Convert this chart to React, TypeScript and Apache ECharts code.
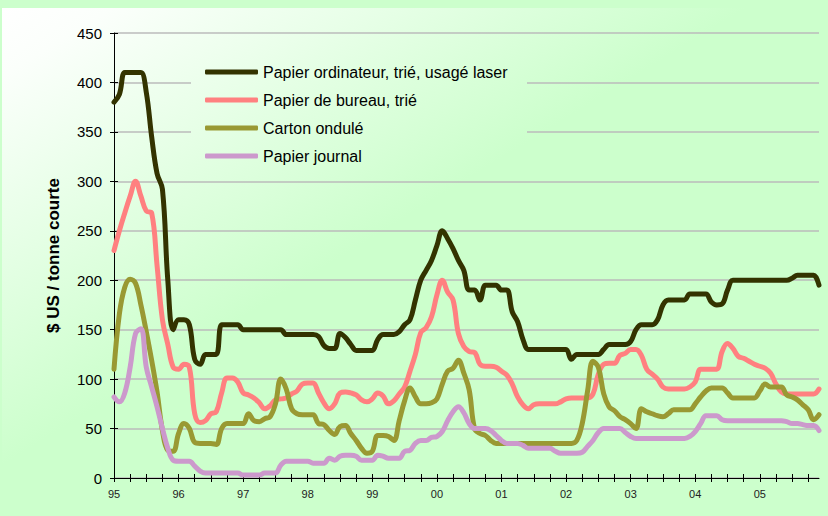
import React, { useEffect, useRef } from "react";
import * as echarts from "echarts";

// ---- Data ----
const YEARS = ["95", "96", "97", "98", "99", "00", "01", "02", "03", "04", "05"];
const MONTHS = ["01", "02", "03", "04", "05", "06", "07", "08", "09", "10", "11", "12"];
const CATEGORIES: string[] = YEARS.flatMap((y) => MONTHS.map((m) => `${y}-${m}`));

const SERIES_NAMES = [
  "Papier ordinateur, trié, usagé laser",
  "Papier de bureau, trié",
  "Carton ondulé",
  "Papier journal",
];

const ORDINATEUR = [
  380, 388, 410, 410, 410, 410, 390, 345, 308, 292, 200, 150,
  160, 160, 155, 120, 115, 125, 125, 125, 155, 155, 155, 155,
  150, 150, 150, 150, 150, 150, 150, 150, 145, 145, 145, 145,
  145, 145, 143, 134, 131, 131, 146, 142, 135, 129, 129, 129,
  129, 140, 145, 145, 145, 148, 155, 160, 180, 200, 210, 220,
  235, 250, 242, 232, 220, 210, 190, 190, 180, 195, 195, 195,
  190, 190, 168, 158, 140, 130, 130, 130, 130, 130, 130, 130,
  130, 120, 125, 125, 125, 125, 125, 130, 135, 135, 135, 135,
  138, 150, 155, 155, 155, 160, 175, 180, 180, 180, 180, 186,
  186, 186, 186, 178, 175, 176, 190, 200, 200, 200, 200, 200,
  200, 200, 200, 200, 200, 200, 202, 205, 205, 205, 205, 195,
];

const BUREAU = [
  230, 250, 268, 285, 300, 285, 270, 268, 215, 160, 135, 112,
  110, 115, 112, 65, 56, 58, 65, 67, 86, 101, 101, 97,
  86, 84, 81, 76, 70, 73, 79, 80, 81, 85, 88, 95,
  96, 96, 86, 76, 70, 75, 86, 87, 86, 84, 79, 77,
  80, 86, 83, 75, 78, 85, 92, 108, 125, 147, 152, 163,
  185, 200, 188, 180, 146, 133, 128, 127, 115, 113, 113, 112,
  108, 104, 95, 82, 74, 70, 74, 75, 75, 75, 75, 77,
  80, 81, 81, 81, 81, 85, 105, 115, 116, 116, 124, 126,
  130, 130, 124, 110, 105, 100, 92, 90, 90, 90, 90, 92,
  97, 110, 110, 110, 110, 128, 136, 131, 123, 121, 118, 115,
  113, 111, 106, 95, 87, 85, 85, 85, 85, 85, 85, 90,
];

const CARTON = [
  110, 166, 193, 201, 197, 175, 148, 119, 87, 48, 28, 27,
  45, 55, 50, 36, 35, 35, 35, 34, 50, 55, 55, 55,
  55, 65, 58, 57, 60, 62, 75, 100, 90, 70, 65, 64,
  64, 64, 55, 54, 48, 44, 52, 53, 45, 38, 30, 25,
  27, 43, 43, 42, 38, 58, 78, 91, 82, 75, 75, 76,
  80, 95, 108, 111, 119, 106, 89, 50, 45, 43, 38, 35,
  35, 35, 35, 35, 35, 35, 35, 35, 35, 35, 35, 35,
  35, 35, 38, 55, 88, 118, 112, 85, 72, 68, 62, 59,
  55, 50, 70, 67, 65, 63, 62, 65, 69, 69, 69, 69,
  75, 82, 88, 91, 91, 91, 86, 81, 81, 81, 81, 81,
  88, 95, 92, 92, 92, 84, 82, 79, 74, 69, 59, 64,
];

const JOURNAL = [
  82, 77, 86, 112, 146, 151, 112, 92, 72, 50, 30, 18,
  17, 17, 17, 12, 7, 5, 5, 5, 5, 5, 5, 5,
  3, 3, 3, 3, 5, 5, 5, 13, 17, 17, 17, 17,
  17, 15, 15, 15, 20, 18, 22, 23, 23, 22, 18, 18,
  18, 23, 22, 20, 20, 20, 27, 28, 35, 38, 38, 41,
  42, 47, 58, 67, 72, 66, 55, 50, 50, 50, 48, 43,
  38, 35, 35, 35, 33, 30, 30, 30, 30, 30, 27, 25,
  25, 25, 25, 26, 32, 38, 46, 50, 50, 50, 50, 46,
  42, 40, 40, 40, 40, 40, 40, 40, 40, 40, 40, 42,
  47, 55, 63, 63, 63, 59, 58, 58, 58, 58, 58, 58,
  58, 58, 58, 58, 58, 57, 55, 55, 54, 53, 53, 48,
];

const SERIES_DATA = [ORDINATEUR, BUREAU, CARTON, JOURNAL];
const COLORS = ["#333300", "#ff8080", "#999933", "#cc99cc"];
const Y_TITLE = "$ US / tonne courte";

const FONT = "'Liberation Sans', Arial, sans-serif";

export default function App() {
  const ref = useRef<HTMLDivElement>(null);

  useEffect(() => {
    if (!ref.current) return;
    const chart = echarts.init(ref.current, undefined, { renderer: "svg" });

    const bgGradient = () => ({
      type: "linear",
      x: 2,
      y: 8,
      x2: 206,
      y2: 340,
      global: true,
      colorStops: [
        { offset: 0, color: "#ffffff" },
        { offset: 0.15, color: "#fbfffb" },
        { offset: 1, color: "#ccffcc" },
      ],
    });

    const option: any = {
      animation: false,
      backgroundColor: "#ccffcc",
      graphic: {
        elements: [
          {
            type: "rect",
            z: -1,
            silent: true,
            shape: { x: 2, y: 8, width: 826, height: 508 },
            style: { fill: bgGradient() },
          },
          {
            type: "rect",
            z: 1,
            silent: true,
            shape: { x: 191, y: 55, width: 336, height: 115 },
            style: { fill: bgGradient() },
          },
        ],
      },
      grid: { left: 114, right: 9, top: 33, bottom: 38, containLabel: false },
      legend: {
        orient: "vertical",
        left: 205,
        top: 64,
        padding: 0,
        itemGap: 12,
        itemWidth: 53,
        itemHeight: 5,
        icon: "roundRect",
        data: SERIES_NAMES,
        textStyle: { fontSize: 16, color: "#000", fontFamily: FONT },
      },
      xAxis: [
        {
          type: "category",
          data: CATEGORIES,
          boundaryGap: false,
          position: "bottom",
          axisLine: { show: true, lineStyle: { color: "#000", width: 1 } },
          axisTick: {
            show: true,
            length: 4,
            interval: (i: number) => i % 3 === 0,
            lineStyle: { color: "#000" },
          },
          axisLabel: {
            interval: (i: number) => i % 12 === 0,
            formatter: (v: string) => v.slice(0, 2),
            fontSize: 11,
            color: "#222",
            margin: 10,
            fontFamily: "'Liberation Sans Narrow', 'Arial Narrow', sans-serif",
          },
          splitLine: { show: false },
        },
        {
          type: "category",
          data: CATEGORIES,
          boundaryGap: false,
          position: "bottom",
          axisLine: { show: false },
          axisTick: {
            show: true,
            inside: true,
            length: 4,
            interval: (i: number) => i % 3 === 0,
            lineStyle: { color: "#000" },
          },
          axisLabel: { show: false },
          splitLine: { show: false },
        },
      ],
      yAxis: [
        {
          type: "value",
          min: 0,
          max: 450,
          interval: 50,
          position: "left",
          name: Y_TITLE,
          nameLocation: "middle",
          nameGap: 52,
          nameTextStyle: { fontSize: 17, fontWeight: "bold", color: "#000", fontFamily: FONT },
          axisLine: { show: true, lineStyle: { color: "#000", width: 1 } },
          axisTick: { show: true, length: 4, lineStyle: { color: "#000" } },
          axisLabel: { fontSize: 15, color: "#000", margin: 12, fontFamily: FONT },
          splitLine: { show: true, lineStyle: { color: "#bbbbbb", width: 1.5 } },
        },
        {
          type: "value",
          min: 0,
          max: 450,
          interval: 50,
          position: "left",
          axisLine: { show: false },
          axisTick: { show: true, inside: true, length: 4, lineStyle: { color: "#000" } },
          axisLabel: { show: false },
          splitLine: { show: false },
        },
      ],
      series: SERIES_NAMES.map((name, i) => ({
        name,
        type: "line",
        data: SERIES_DATA[i],
        xAxisIndex: 0,
        yAxisIndex: 0,
        smooth: 0.4,
        symbol: "none",
        lineStyle: { width: 5, color: COLORS[i], cap: "round", join: "round" },
        itemStyle: { color: COLORS[i] },
        z: 2 + i,
      })),
    };

    chart.setOption(option);
    return () => chart.dispose();
  }, []);

  return (
    <div
      ref={ref}
      style={{ position: "fixed", left: 0, top: 0, width: 828, height: 516 }}
    />
  );
}
